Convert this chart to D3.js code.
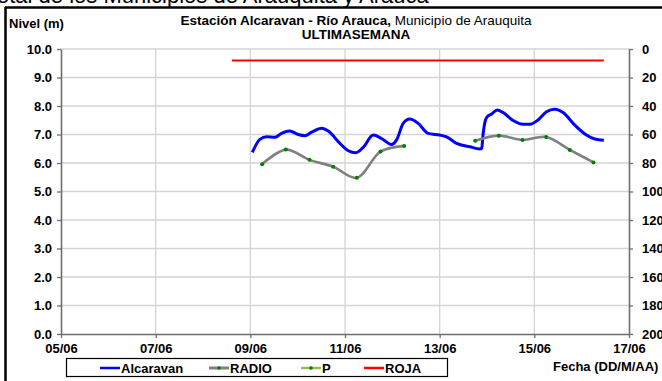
<!DOCTYPE html>
<html><head><meta charset="utf-8">
<script src="https://cdn.jsdelivr.net/npm/d3@7"></script>
<style>
html,body{margin:0;padding:0;background:#fff;}
svg{display:block;font-family:"Liberation Sans",Arial,sans-serif;}
</style></head>
<body>
<svg id="c" width="662" height="381"></svg>
<script>
// ---- data ----
const alcaravanTimes = ["09/06 01:00","09/06 04:50","09/06 08:15","09/06 12:30","09/06 15:50","09/06 20:00","10/06 00:15","10/06 03:40","10/06 07:05","10/06 12:10","10/06 15:30","10/06 21:25","11/06 01:40","11/06 05:30","11/06 09:15","11/06 14:20","11/06 18:30","11/06 23:35","12/06 02:10","12/06 05:30","12/06 08:50","12/06 13:05","12/06 18:10","13/06 00:05","13/06 03:30","13/06 08:35","13/06 15:20","13/06 20:20","13/06 21:20","13/06 22:00","13/06 23:00","14/06 00:00","14/06 02:20","14/06 05:10","14/06 08:10","14/06 13:15","14/06 18:20","14/06 21:45","15/06 01:55","15/06 06:10","15/06 10:25","15/06 14:35","15/06 20:30","16/06 02:25","16/06 06:40","16/06 11:15"];
const alcaravanValues = [6.37,6.83,6.92,6.90,7.04,7.12,7.00,6.96,7.08,7.22,7.12,6.69,6.43,6.36,6.55,6.98,6.86,6.65,6.81,7.39,7.54,7.39,7.04,6.98,6.92,6.69,6.57,6.49,6.52,7.00,7.45,7.62,7.72,7.86,7.77,7.49,7.36,7.36,7.51,7.80,7.89,7.77,7.33,6.98,6.84,6.80];
const radioTimes = ["09/06 06:00","09/06 18:00","10/06 06:00","10/06 18:00","11/06 06:00","11/06 18:00","12/06 06:00","12/06 18:00","13/06 06:00","13/06 18:00","14/06 06:00","14/06 18:00","15/06 06:00","15/06 18:00","16/06 06:00"];
const radioValues = [5.96,6.47,6.11,5.87,5.48,6.40,6.60,null,null,6.78,6.96,6.81,6.91,6.46,6.02];
const pTimes = [];
const pValues = [];
const rojaTimes = ["08/06 14:40","16/06 11:15"];
const rojaValues = [9.6,9.6];
const xTickLabels = ["05/06","07/06","09/06","11/06","13/06","15/06","17/06"];
const yLeftTicks = [0,1,2,3,4,5,6,7,8,9,10];
const yRightTicks = [0,20,40,60,80,100,120,140,160,180,200];
const legendNames = ["Alcaravan","RADIO","P","ROJA"];

// ---- helpers ----
const parse = d3.timeParse("%d/%m/%Y %H:%M");
const pt = s => parse(s.replace(" ", "/2024 "));
const pd = s => d3.timeParse("%d/%m/%Y")(s + "/2024");

const svg = d3.select("#c");
const L = 61, R = 629, T = 49, B = 334;
const FS = 13;

const x = d3.scaleTime().domain([pd("05/06"), pd("17/06")]).range([L, R]);
const y = d3.scaleLinear().domain([0, 10]).range([B, T]);
const y2 = d3.scaleLinear().domain([0, 200]).range([T, B]);

// cut-off header text above frame
svg.append("text").attr("x", -14).attr("y", 3).attr("font-size", 22)
  .attr("fill", "#000").text("Total de los Municipios de Arauquita y Arauca");

// frame
svg.append("line").attr("x1", 5).attr("x2", 662).attr("y1", 7.5).attr("y2", 7.5).attr("stroke", "#000").attr("stroke-width", 2.5);
svg.append("line").attr("x1", 5.5).attr("x2", 5.5).attr("y1", 7).attr("y2", 381).attr("stroke", "#000").attr("stroke-width", 2.5);

// grid
const xTicks = xTickLabels.map(pd);
svg.append("g").selectAll("line").data(yLeftTicks.slice(1)).join("line")
  .attr("x1", L).attr("x2", R).attr("y1", d => y(d)).attr("y2", d => y(d))
  .attr("stroke", "#d4d4d4").attr("stroke-width", 1.3);
svg.append("g").selectAll("line").data(xTicks.slice(1, -1)).join("line")
  .attr("x1", d => x(d)).attr("x2", d => x(d)).attr("y1", T).attr("y2", B)
  .attr("stroke", "#d4d4d4").attr("stroke-width", 1.3);

// axes
const fmt = d3.timeFormat("%d/%m");
const gx = svg.append("g").attr("transform", `translate(0,${B})`)
  .call(d3.axisBottom(x).tickValues(xTicks).tickFormat(fmt).tickSize(4).tickSizeOuter(0));
const gy = svg.append("g").attr("transform", `translate(${L},0)`)
  .call(d3.axisLeft(y).tickValues(yLeftTicks).tickFormat(d3.format(".1f")).tickSize(4).tickSizeOuter(0));
const gy2 = svg.append("g").attr("transform", `translate(${R},0)`)
  .call(d3.axisRight(y2).tickValues(yRightTicks).tickSize(4).tickSizeOuter(0));
[gx, gy, gy2].forEach(g => {
  g.select(".domain").attr("stroke", "#6e6e6e").attr("stroke-width", 1.6);
  g.selectAll(".tick line").attr("stroke", "#6e6e6e").attr("stroke-width", 1.3);
  g.selectAll("text").attr("font-size", FS).attr("font-weight", "bold")
    .attr("font-family", "Liberation Sans, Arial, sans-serif").attr("fill", "#000");
});
gx.selectAll("text").attr("dy", "0.95em");
gy.selectAll("text").attr("x", -9);
gy2.selectAll("text").attr("x", 13);

// series
const line = d3.line().defined(d => d.v != null).x(d => x(d.t)).y(d => y(d.v));
const alc = alcaravanTimes.map((t, i) => ({t: pt(t), v: alcaravanValues[i]}));
const rad = radioTimes.map((t, i) => ({t: pt(t), v: radioValues[i]}));
const roja = rojaTimes.map((t, i) => ({t: pt(t), v: rojaValues[i]}));
const pp = pTimes.map((t, i) => ({t: pt(t), v: pValues[i]}));

svg.append("path").datum(roja).attr("d", line).attr("fill", "none").attr("stroke", "#ff0000").attr("stroke-width", 2);
svg.append("path").datum(alc).attr("d", line.curve(d3.curveMonotoneX)).attr("fill", "none")
  .attr("stroke", "#0000ff").attr("stroke-width", 3);
svg.append("path").datum(rad).attr("d", line.curve(d3.curveCatmullRom.alpha(0.5))).attr("fill", "none")
  .attr("stroke", "#808080").attr("stroke-width", 2.6);
svg.append("g").selectAll("circle").data(rad.filter(d => d.v != null)).join("circle")
  .attr("cx", d => x(d.t)).attr("cy", d => y(d.v)).attr("r", 2).attr("fill", "#008000");
svg.append("path").datum(pp).attr("d", line.curve(d3.curveLinear)).attr("fill", "none")
  .attr("stroke", "#9bbb59").attr("stroke-width", 2);

// titles
const t1 = svg.append("text").attr("x", 356).attr("y", 25).attr("text-anchor", "middle").attr("font-size", 13.5);
t1.append("tspan").attr("font-weight", "bold").text("Estación Alcaravan - Río Arauca,");
t1.append("tspan").text(" Municipio de Arauquita");
svg.append("text").attr("x", 356).attr("y", 38.5).attr("text-anchor", "middle").attr("font-size", 13.5)
  .attr("font-weight", "bold").text("ULTIMASEMANA");
svg.append("text").attr("x", 9).attr("y", 28).attr("font-size", FS).attr("font-weight", "bold").text("Nivel (m)");
svg.append("text").attr("x", 553).attr("y", 371).attr("font-size", FS).attr("font-weight", "bold").text("Fecha (DD/M/AA)");

// legend
svg.append("rect").attr("x", 66.5).attr("y", 358.5).attr("width", 381).attr("height", 18)
  .attr("fill", "#fff").attr("stroke", "#000").attr("stroke-width", 1.2);
const legX = [100, 209, 301, 364];
const legColor = ["#0000ff", "#808080", "#9bbb59", "#ff0000"];
const legDot = [false, true, true, false];
const lg = svg.append("g").selectAll("g").data(legendNames).join("g")
  .attr("transform", (d, i) => `translate(${legX[i]},368)`);
lg.append("line").attr("x1", 0).attr("x2", 20).attr("stroke", (d, i) => legColor[i]).attr("stroke-width", (d, i) => i === 1 ? 3 : 2.5);
lg.filter((d, i) => legDot[i]).append("circle").attr("cx", 10).attr("r", 1.8).attr("fill", "#008000");
lg.append("text").attr("x", 21).attr("y", 4.5).attr("font-size", FS).attr("font-weight", "bold").text(d => d);
</script>
</body></html>
